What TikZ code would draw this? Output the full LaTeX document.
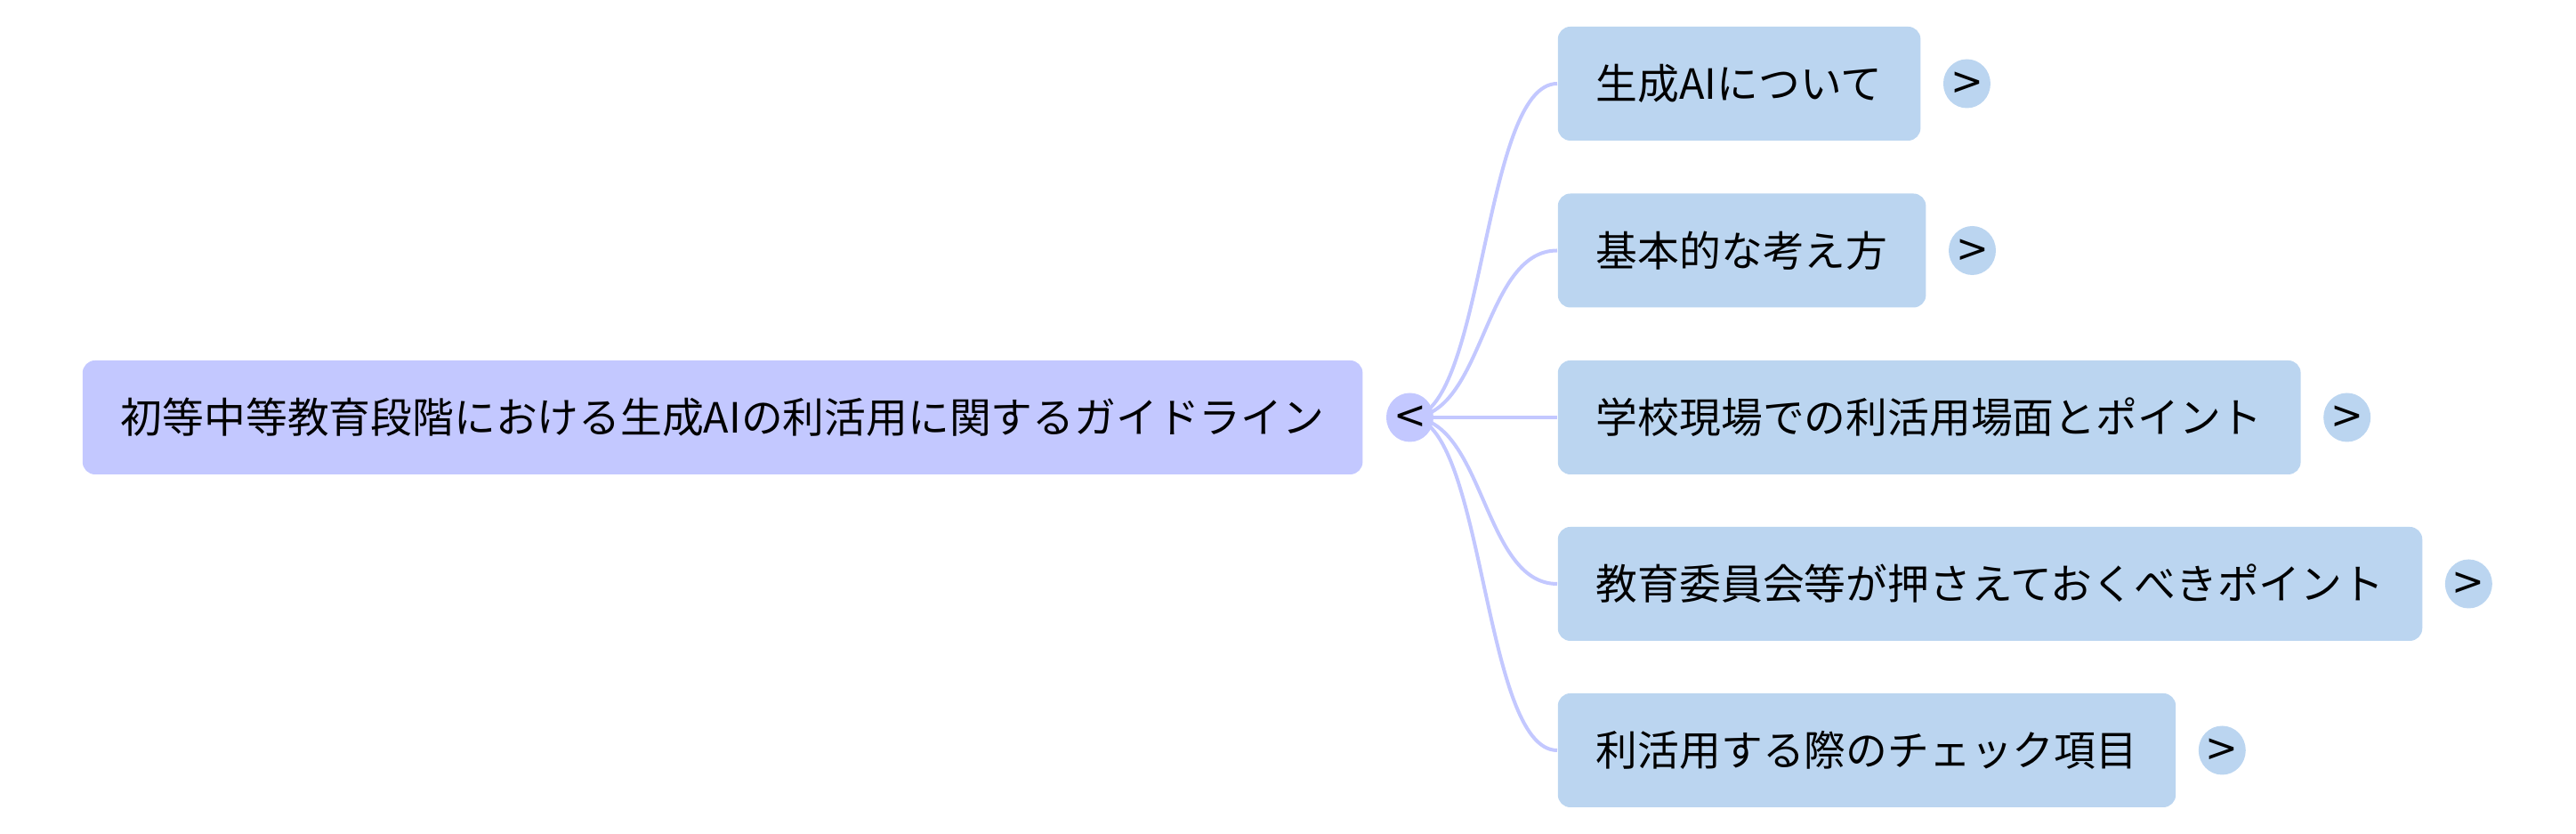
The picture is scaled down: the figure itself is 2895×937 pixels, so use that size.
\documentclass[tikz,border=0pt]{standalone}
\usepackage{fontspec}
\setmainfont{Noto Sans CJK JP}
\newfontfamily\foldfont{DejaVu Sans}
\usetikzlibrary{positioning,backgrounds,shapes.geometric}
\definecolor{rootblue}{RGB}{195,200,255}
\definecolor{topicblue}{RGB}{187,213,240}
\begin{document}
\begin{tikzpicture}[x=0.25pt, y=-0.25pt,
    box/.style={rounded corners=3.5pt, minimum height=32pt, inner xsep=10.75pt, anchor=west, font=\fontsize{11.7pt}{14pt}\selectfont},
    root/.style={box, fill=rootblue},
    topic/.style={box, fill=topicblue},
    fold/.style={ellipse, inner sep=0pt, minimum width=13.25pt, minimum height=13.75pt, font=\foldfont\fontsize{11pt}{13pt}\selectfont},
    link/.style={draw=rootblue, line width=1pt}]
    \useasboundingbox (0,0) rectangle (2895,937);

    % Central topic
    \node[root] (guide) at (92,469) {初等中等教育段階における生成AIの利活用に関するガイドライン};
    \node[fold, fill=rootblue, right=6.25pt of guide] (guidefold) {<};

    % Subtopics
    \node[topic] (about) at (1750,94) {生成AIについて};
    \node[topic] (basic) at (1750,281.5) {基本的な考え方};
    \node[topic] (school) at (1750,469) {学校現場での利活用場面とポイント};
    \node[topic] (board) at (1750,656) {教育委員会等が押さえておくべきポイント};
    \node[topic] (check) at (1750,843) {利活用する際のチェック項目};

    % Fold buttons
    \node[fold, fill=topicblue, right=6pt of about] (aboutfold) {>};
    \node[fold, fill=topicblue, right=6pt of basic] (basicfold) {>};
    \node[fold, fill=topicblue, right=6pt of school] (schoolfold) {>};
    \node[fold, fill=topicblue, right=6pt of board] (boardfold) {>};
    \node[fold, fill=topicblue, right=6pt of check] (checkfold) {>};

    % Branches
    \begin{pgfonlayer}{background}
    \draw[link] (guidefold.center) .. controls +(84,0) and +(-84,0) .. (about.west);
    \draw[link] (guidefold.center) .. controls +(84,0) and +(-84,0) .. (basic.west);
    \draw[link] (guidefold.center) -- (school.west);
    \draw[link] (guidefold.center) .. controls +(84,0) and +(-84,0) .. (board.west);
    \draw[link] (guidefold.center) .. controls +(84,0) and +(-84,0) .. (check.west);
    \end{pgfonlayer}
\end{tikzpicture}
\end{document}
